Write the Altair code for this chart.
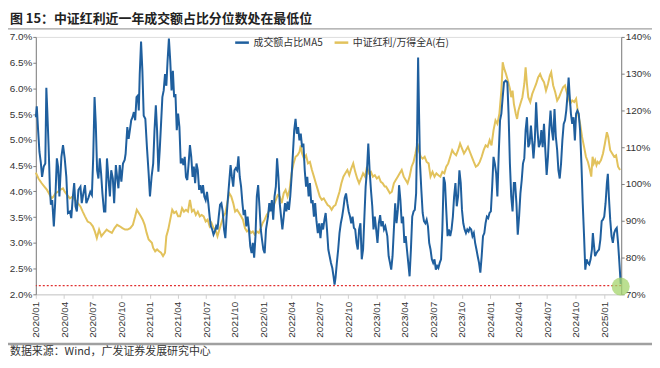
import altair as alt
import pandas as pd
import numpy as np

# ---------------- data ----------------
# x positions are expressed as months elapsed since 2020-01-01
blue_months = [0.0, 0.1, 0.24, 0.38, 0.52, 0.66, 0.83, 1.0, 1.11, 1.21, 1.35, 1.49, 1.59, 1.73, 1.9, 2.04, 2.22, 2.35, 2.49, 2.7, 2.87, 3.05, 3.22, 3.39, 3.6, 3.74, 3.91, 4.05, 4.19, 4.33, 4.5, 4.71, 4.85, 5.02, 5.19, 5.33, 5.54, 5.75, 5.92, 6.06, 6.2, 6.33, 6.47, 6.61, 6.75, 6.89, 7.03, 7.2, 7.34, 7.51, 7.68, 7.82, 7.96, 8.13, 8.27, 8.45, 8.58, 8.72, 8.86, 9.03, 9.2, 9.38, 9.48, 9.66, 9.8, 9.93, 10.07, 10.21, 10.35, 10.49, 10.63, 10.77, 10.87, 10.97, 11.11, 11.25, 11.39, 11.56, 11.73, 11.91,
               12.05, 12.22, 12.39, 12.53, 12.67, 12.8, 12.94, 13.08, 13.22, 13.36, 13.5, 13.64, 13.78, 13.91, 14.05, 14.19, 14.33, 14.47, 14.6, 14.74, 14.88, 15.02, 15.16, 15.3, 15.44, 15.58, 15.72, 15.85, 15.99, 16.13, 16.27, 16.41, 16.55, 16.68, 16.82, 16.96, 17.1, 17.24, 17.38, 17.51, 17.65, 17.79, 17.93, 18.07, 18.21, 18.35, 18.48, 18.62, 18.76, 18.9, 19.04, 19.18, 19.31, 19.45, 19.59, 19.73, 19.87, 20.01, 20.14, 20.28, 20.42, 20.56, 20.7, 20.84, 20.97, 21.11, 21.25, 21.39, 21.53, 21.67, 21.81, 21.94, 22.08, 22.22, 22.36, 22.5, 22.64, 22.78, 22.91, 23.05, 23.19, 23.33, 23.47, 23.61, 23.75, 23.88, 24.02, 24.16, 24.3,
               24.51, 24.65, 24.78, 24.92, 25.06, 25.2, 25.34, 25.47, 25.61, 25.75, 25.89, 26.03, 26.17, 26.31, 26.45, 26.58, 26.72, 26.86, 27.0, 27.14, 27.28, 27.42, 27.55, 27.69, 27.83, 27.97, 28.11, 28.25, 28.39, 28.53, 28.66, 28.8, 28.94, 29.08, 29.22, 29.36, 29.49, 29.63, 29.77, 29.91, 30.05, 30.19, 30.33, 30.47, 30.6, 30.74, 30.88, 31.02, 31.16, 31.3, 31.43, 31.54, 31.64, 31.78, 31.92, 32.06, 32.2, 32.34, 32.47, 32.61, 32.75, 32.89, 33.03, 33.17, 33.3, 33.44, 33.58, 33.72, 33.86, 33.99, 34.13, 34.27, 34.41, 34.55, 34.69, 34.82, 34.96, 35.1, 35.24, 35.38, 35.52, 35.65, 35.79, 35.93, 36.07, 36.21, 36.35, 36.48, 36.62, 36.76, 36.9,
               37.11, 37.25, 37.39, 37.52, 37.66, 37.8, 37.94, 38.08, 38.22, 38.35, 38.49, 38.63, 38.77, 38.91, 39.05, 39.18, 39.32, 39.46, 39.6, 39.74, 39.88, 40.01, 40.15, 40.26, 40.36, 40.46, 40.56, 40.7, 40.84, 40.98, 41.12, 41.26, 41.4, 41.53, 41.67, 41.81, 41.95, 42.09, 42.23, 42.37, 42.5, 42.64, 42.78, 42.92, 43.06, 43.2, 43.33, 43.47, 43.61, 43.75, 43.89, 44.03, 44.16, 44.3, 44.44, 44.58, 44.72, 44.86, 44.99, 45.13, 45.27, 45.41, 45.55, 45.69, 45.82, 45.96, 46.1, 46.24, 46.38, 46.52, 46.65, 46.79, 46.93, 47.07, 47.21, 47.35, 47.48, 47.62, 47.76, 47.9, 48.04, 48.18, 48.32, 48.46, 48.6, 48.73, 48.87, 49.01, 49.15, 49.29,
               49.43, 49.6, 49.78, 49.91, 50.05, 50.19, 50.33, 50.47, 50.6, 50.74, 50.88, 51.02, 51.16, 51.3, 51.43, 51.57, 51.71, 51.85, 51.99, 52.13, 52.27, 52.4, 52.54, 52.68, 52.82, 52.96, 53.1, 53.24, 53.37, 53.51, 53.65, 53.79, 53.93, 54.07, 54.2, 54.34, 54.48, 54.62, 54.76, 54.9, 55.04, 55.17, 55.31, 55.45, 55.59, 55.73, 55.87, 56.0, 56.14, 56.25, 56.35, 56.49, 56.63, 56.77, 56.91, 57.04, 57.18, 57.32, 57.46, 57.6, 57.74, 57.88, 58.01, 58.15, 58.29, 58.43, 58.57, 58.71, 58.81, 58.9, 59.04, 59.18, 59.32, 59.46, 59.6, 59.74, 59.87, 60.01, 60.15, 60.29, 60.39, 60.5, 60.64, 60.78, 60.92, 61.06, 61.2, 61.33, 61.47, 61.61, 61.75]
blue_values = [5.44, 5.65, 5.19, 4.77, 4.57, 4.28, 4.48, 4.54, 6.01, 5.57, 4.86, 4.03, 3.74, 3.83, 3.32, 3.77, 4.64, 4.48, 3.90, 4.67, 4.90, 4.64, 4.28, 3.58, 3.61, 3.48, 3.90, 4.16, 3.71, 3.61, 4.03, 4.09, 3.77, 3.96, 4.12, 3.77, 3.87, 3.99, 3.93, 4.67, 5.83, 5.31, 4.41, 4.25, 4.64, 4.35, 3.96, 3.61, 3.61, 4.64, 4.22, 3.90, 4.41, 4.25, 3.77, 4.51, 4.28, 4.06, 4.51, 4.19, 4.54, 4.61, 4.73, 5.25, 5.02, 5.19, 5.38, 5.44, 5.54, 5.38, 5.83, 5.86, 5.57, 6.28, 6.91, 6.34, 5.47, 5.41, 4.86, 4.35,
               3.90, 4.28, 4.54, 5.19, 5.67, 5.19, 4.38, 4.80, 5.31, 5.83, 5.96, 6.28, 6.05, 6.54, 6.97, 6.54, 5.96, 6.34, 5.83, 5.89, 5.19, 5.51, 5.25, 4.54, 4.64, 4.51, 4.67, 4.28, 4.22, 4.54, 4.90, 4.67, 4.28, 4.48, 4.16, 4.54, 4.41, 4.03, 4.12, 3.96, 4.12, 3.90, 3.83, 3.99, 3.77, 3.51, 3.32, 3.26, 3.16, 3.22, 3.32, 3.26, 3.51, 3.74, 3.77, 3.61, 3.26, 3.09, 3.51, 3.87, 4.19, 4.51, 4.28, 4.09, 4.41, 4.45, 4.41, 4.68, 4.28, 4.09, 3.77, 3.54, 3.64, 3.32, 3.51, 3.26, 2.93, 2.80, 3.00, 2.71, 3.13, 3.90, 4.12, 3.71, 3.26, 3.06, 2.87, 2.80, 3.26,
               3.51, 3.77, 3.61, 3.83, 3.45, 3.90, 4.09, 4.64, 4.28, 3.77, 3.51, 3.26, 3.51, 3.77, 3.61, 3.80, 3.64, 3.90, 4.28, 4.73, 5.19, 5.41, 5.12, 5.25, 4.99, 5.12, 4.86, 4.93, 4.41, 4.09, 4.28, 3.90, 4.16, 3.77, 3.83, 3.51, 3.77, 3.42, 3.19, 3.38, 3.09, 3.38, 3.26, 3.45, 3.58, 3.26, 2.87, 2.74, 2.61, 2.51, 2.35, 2.19, 2.32, 2.61, 2.87, 3.19, 3.38, 3.51, 3.67, 3.87, 3.96, 3.77, 3.61, 3.51, 3.38, 3.51, 3.29, 3.26, 3.00, 2.87, 3.26, 3.38, 2.68, 2.87, 3.51, 4.09, 4.41, 4.93, 4.41, 4.03, 3.71, 3.26, 3.51, 3.26, 3.00, 3.38, 3.54, 3.32, 3.42, 3.26, 3.32,
               3.13, 2.74, 2.61, 2.48, 2.74, 3.26, 3.77, 3.38, 3.64, 4.12, 3.83, 3.38, 3.51, 3.00, 3.13, 2.87, 2.61, 2.35, 2.87, 3.51, 3.61, 3.64, 3.96, 5.19, 6.60, 5.51, 4.54, 4.03, 3.58, 3.42, 3.38, 3.45, 3.32, 3.00, 2.87, 2.68, 2.61, 2.68, 2.48, 2.55, 2.51, 2.61, 2.68, 3.26, 4.28, 4.16, 3.64, 3.13, 3.26, 3.13, 3.26, 3.51, 3.90, 4.16, 3.71, 3.90, 4.41, 4.16, 3.64, 3.38, 3.26, 3.19, 3.26, 3.22, 3.29, 3.26, 3.13, 3.19, 3.00, 2.87, 2.74, 2.61, 2.42, 2.74, 3.13, 3.19, 3.38, 3.51, 3.48, 3.58, 3.61, 4.09, 4.67, 4.54, 4.35, 3.90, 4.73, 5.38, 5.51, 5.83,
               6.12, 6.15, 6.12, 5.51, 4.54, 3.90, 3.61, 4.16, 4.16, 3.77, 3.16, 3.51, 3.96, 4.22, 4.54, 4.64, 5.19, 5.44, 4.86, 4.93, 5.28, 4.99, 4.64, 4.99, 5.73, 5.19, 4.86, 4.93, 5.19, 4.86, 5.31, 4.80, 4.32, 4.67, 5.19, 5.57, 5.19, 4.99, 5.60, 5.06, 4.80, 4.41, 4.25, 4.54, 4.99, 5.31, 5.38, 5.57, 5.89, 6.21, 5.89, 5.51, 5.31, 5.44, 4.99, 5.51, 5.57, 5.51, 5.19, 4.54, 3.77, 3.13, 2.48, 2.68, 2.61, 2.58, 2.68, 2.87, 3.19, 3.00, 2.74, 2.80, 2.84, 2.87, 3.06, 3.42, 3.45, 3.51, 3.77, 4.16, 4.34, 3.90, 3.45, 3.13, 3.00, 3.19, 3.26, 3.29, 3.00, 2.61, 2.20]

yellow_months = [0.0, 0.28, 0.62, 0.9, 1.18, 1.38, 1.66, 1.87, 2.08, 2.35, 2.56, 2.87, 3.05, 3.32, 3.6, 3.88, 4.15, 4.43, 4.71, 4.95, 5.19, 5.47, 5.75, 6.02, 6.23, 6.44, 6.68, 6.92, 7.2, 7.48, 7.75, 8.03, 8.31, 8.58, 8.86, 9.14, 9.42, 9.69, 9.97, 10.25, 10.49, 10.66, 10.87, 11.08, 11.28, 11.49, 11.7, 11.91,
                 12.25, 12.39, 12.6, 12.8, 13.01, 13.22, 13.43, 13.64, 13.78, 13.98, 14.19, 14.4, 14.6, 14.81, 15.02, 15.23, 15.44, 15.64, 15.85, 16.06, 16.27, 16.48, 16.68, 16.89, 17.1, 17.31, 17.51, 17.72, 17.93, 18.14, 18.35, 18.55, 18.76, 18.97, 19.18, 19.38, 19.59, 19.8, 20.01, 20.21, 20.42, 20.63, 20.84, 21.04, 21.25, 21.46, 21.67, 21.87, 22.08, 22.29, 22.5, 22.71, 22.91, 23.12, 23.33, 23.54, 23.75, 23.95, 24.16, 24.37,
                 24.51, 24.71, 24.92, 25.13, 25.34, 25.54, 25.75, 25.96, 26.17, 26.37, 26.58, 26.79, 27.0, 27.21, 27.42, 27.62, 27.83, 27.97, 28.11, 28.32, 28.53, 28.73, 28.94, 29.15, 29.36, 29.56, 29.77, 29.98, 30.19, 30.4, 30.6, 30.81, 31.02, 31.23, 31.43, 31.64, 31.85, 32.06, 32.26, 32.47, 32.68, 32.89, 33.09, 33.3, 33.51, 33.72, 33.93, 34.13, 34.34, 34.55, 34.76, 34.96, 35.17, 35.38, 35.58, 35.79, 36.0, 36.21, 36.42, 36.62, 36.83,
                 36.97, 37.18, 37.38, 37.59, 37.8, 38.0, 38.21, 38.42, 38.63, 38.84, 39.05, 39.25, 39.46, 39.67, 39.88, 40.08, 40.29, 40.43, 40.64, 40.84, 41.05, 41.26, 41.47, 41.67, 41.88, 42.09, 42.29, 42.5, 42.71, 42.92, 43.13, 43.33, 43.54, 43.75, 43.96, 44.17, 44.37, 44.58, 44.79, 45.0, 45.2, 45.41, 45.62, 45.83, 46.03, 46.24, 46.45, 46.66, 46.87, 47.07, 47.28, 47.49, 47.7, 47.91, 48.11, 48.32, 48.53, 48.73, 48.94, 49.15, 49.29,
                 49.43, 49.64, 49.84, 50.05, 50.19, 50.33, 50.47, 50.67, 50.81, 50.95, 51.16, 51.37, 51.57, 51.71, 51.85, 51.99, 52.2, 52.41, 52.62, 52.82, 53.03, 53.24, 53.44, 53.65, 53.86, 54.07, 54.27, 54.41, 54.62, 54.83, 55.04, 55.24, 55.45, 55.66, 55.87, 56.0, 56.21, 56.42, 56.63, 56.84, 57.04, 57.25, 57.46, 57.67, 57.88, 58.08, 58.29, 58.5, 58.64, 58.78, 58.91, 59.05, 59.19, 59.32, 59.46, 59.67, 59.88, 60.08, 60.29, 60.43, 60.64, 60.85, 61.06, 61.26, 61.47, 61.68]
yellow_values = [103.1, 101.5, 100.2, 99.3, 98.4, 97.5, 96.1, 96.6, 97.5, 97.9, 98.4, 98.8, 97.9, 97.0, 96.1, 96.6, 95.7, 94.8, 93.9, 92.5, 91.2, 89.8, 89.4, 88.5, 87.1, 85.3, 87.6, 85.8, 86.7, 87.6, 87.1, 86.7, 88.0, 88.9, 88.5, 88.0, 87.6, 87.6, 88.0, 88.9, 91.2, 93.0, 92.1, 91.2, 90.3, 88.9, 86.7, 84.9,
                 84.0, 82.6, 81.7, 82.2, 81.7, 81.3, 80.4, 81.3, 85.8, 87.6, 90.3, 93.0, 92.1, 92.5, 91.2, 91.2, 93.4, 92.5, 93.0, 92.5, 95.7, 92.5, 93.0, 91.6, 92.5, 91.2, 91.6, 91.2, 89.8, 90.3, 88.5, 89.4, 88.0, 87.6, 85.8, 87.6, 89.4, 91.2, 92.1, 94.8, 97.5, 96.6, 94.8, 92.5, 93.0, 92.1, 91.2, 90.3, 88.0, 87.1, 87.6, 86.7, 87.1, 86.2, 87.1, 86.7, 88.0, 89.4, 90.3, 91.6,
                 92.1, 93.0, 93.9, 94.3, 95.7, 97.0, 96.6, 94.8, 97.5, 98.4, 96.6, 98.4, 102.9, 105.6, 107.4, 107.8, 108.7, 110.5, 108.3, 106.9, 107.8, 105.6, 106.0, 103.8, 102.0, 100.2, 98.4, 96.6, 95.7, 96.1, 95.2, 94.3, 93.9, 93.0, 93.9, 94.3, 96.1, 97.9, 100.2, 102.0, 102.9, 103.8, 102.4, 104.2, 105.6, 103.3, 101.5, 100.2, 101.5, 102.9, 102.0, 104.7, 102.9, 103.3, 102.0, 102.4, 101.5, 102.0, 100.6, 100.2, 99.3,
                 99.3, 98.4, 97.5, 97.9, 100.2, 101.1, 102.0, 102.9, 103.8, 102.0, 101.1, 100.2, 102.0, 104.7, 106.0, 108.3, 111.0, 109.2, 107.4, 106.9, 107.4, 106.0, 105.6, 102.0, 103.3, 102.0, 102.9, 102.4, 102.0, 103.3, 102.9, 104.7, 105.6, 107.4, 109.2, 108.3, 107.8, 109.2, 111.0, 109.6, 108.3, 109.2, 110.1, 108.7, 107.4, 106.0, 104.7, 105.1, 106.0, 107.4, 109.2, 110.5, 110.1, 111.9, 110.5, 114.6, 117.3, 116.4, 119.1, 125.4, 133.1,
                 131.5, 129.9, 128.1, 125.9, 123.6, 125.4, 121.8, 119.1, 117.7, 120.0, 121.8, 123.6, 127.2, 131.7, 127.2, 123.6, 122.3, 124.5, 125.9, 127.2, 129.0, 129.9, 128.6, 127.7, 125.4, 127.2, 129.5, 130.4, 126.8, 125.0, 122.7, 123.6, 125.0, 126.3, 126.8, 125.4, 123.6, 121.8, 122.7, 122.3, 123.2, 119.1, 116.4, 112.8, 110.1, 107.4, 106.0, 103.8, 102.0, 107.4, 105.6, 106.5, 105.1, 106.0, 105.6, 106.5, 108.3, 111.0, 114.1, 112.8, 109.2, 108.3, 107.4, 107.8, 104.7, 103.8]

low_line_value = [2.17]
marker_months = [61.75]
marker_values = [2.15]

series_names = ["成交额占比MA5", "中证红利/万得全A(右)"]
series_colors = ["#1f5f9e", "#e2c25c"]
left_ticks = [2.0, 2.5, 3.0, 3.5, 4.0, 4.5, 5.0, 5.5, 6.0, 6.5, 7.0]
right_ticks = [70, 80, 90, 100, 110, 120, 130, 140]
quarter_ticks = [(y, m) for y in range(2020, 2026) for m in (1, 4, 7, 10) if (y, m) <= (2025, 1)]

title_text = "图 15：中证红利近一年成交额占比分位数处在最低位"
source_text = "数据来源：Wind，广发证券发展研究中心"

# ---------------- helpers ----------------
START = pd.Timestamp("2020-01-01")
def to_dates(months):
    d = START + pd.to_timedelta(np.array(months) * 30.4375, unit="D")
    return d.strftime("%Y-%m-%dT%H:%M:%S")

blue_df = pd.DataFrame({"t": to_dates(blue_months), "v": blue_values, "series": series_names[0]})
yellow_df = pd.DataFrame({"t": to_dates(yellow_months), "v": yellow_values, "series": series_names[1]})
low_df = pd.DataFrame({"v": low_line_value})
marker_df = pd.DataFrame({"t": to_dates(marker_months), "v": marker_values})

x_domain = [START.strftime("%Y-%m-%dT%H:%M:%S"), to_dates([61.8])[0]]

FONT = "Liberation Sans, Noto Sans CJK SC"
CJK = "Noto Sans CJK SC"

x_enc = alt.X(
    "t:T",
    scale=alt.Scale(domain=x_domain),
    axis=alt.Axis(
        values=[alt.DateTime(year=y, month=m, date=1) for y, m in quarter_ticks],
        format="%Y/%m", labelAngle=270, labelFontSize=10, labelColor="#333333",
        labelFont=FONT, tickSize=4, tickColor="#d0d0d0", domainColor="#d0d0d0",
        labelPadding=3, grid=False, title=None, labelOverlap=False,
    ),
)

color_enc = alt.Color(
    "series:N",
    scale=alt.Scale(domain=series_names, range=series_colors),
    legend=alt.Legend(
        orient="none", legendX=199, legendY=-3, direction="horizontal", title=None,
        symbolType="stroke", symbolStrokeWidth=2.5, symbolSize=190,
        labelFontSize=10, labelFont=CJK, labelColor="#333333", columnPadding=6, labelOffset=3,
    ),
)

left_axis = alt.Axis(
    orient="left", values=left_ticks, labelExpr="format(datum.value, '.1f') + '%'",
    labelFontSize=10, labelFont=FONT, labelColor="#333333", tickSize=3,
    tickColor="#808080", domainColor="#808080", grid=False, title=None, labelPadding=1,
)
right_axis = alt.Axis(
    orient="right", values=right_ticks, labelExpr="format(datum.value, 'd') + '%'",
    labelFontSize=10, labelFont=FONT, labelColor="#333333", tickSize=3,
    tickColor="#808080", domainColor="#808080", grid=False, title=None, labelPadding=1,
)
left_scale = alt.Scale(domain=[2.0, 7.0], nice=False, zero=False)
right_scale = alt.Scale(domain=[70, 140], nice=False, zero=False)

yellow = alt.Chart(yellow_df).mark_line(strokeWidth=2).encode(
    x=x_enc, y=alt.Y("v:Q", scale=right_scale, axis=right_axis), color=color_enc
)

blue = alt.Chart(blue_df).mark_line(strokeWidth=2).encode(
    x=x_enc, y=alt.Y("v:Q", scale=left_scale, axis=left_axis), color=color_enc
)
low = alt.Chart(low_df).mark_rule(color="#e03030", strokeWidth=1.3, strokeDash=[2, 2]).encode(
    y=alt.Y("v:Q", scale=left_scale, axis=left_axis)
)
marker = alt.Chart(marker_df).mark_point(filled=True, size=330, color="#a4d46c", opacity=0.75).encode(
    x=x_enc, y=alt.Y("v:Q", scale=left_scale, axis=left_axis)
)

title_mark = alt.Chart(pd.DataFrame({"s": [title_text]})).mark_text(
    align="left", baseline="middle", fontSize=13, fontWeight="bold", font=CJK, color="#222222"
).encode(x=alt.value(-26), y=alt.value(-18), text="s:N")
title_rule = alt.Chart(pd.DataFrame({"s": [title_text]})).mark_rule(color="#a0a0a0", strokeWidth=1.2).encode(
    x=alt.value(-28), x2=alt.value(620), y=alt.value(-8)
)
foot_rule = alt.Chart(pd.DataFrame({"s": [source_text]})).mark_rule(color="#a0a0a0", strokeWidth=2.5).encode(
    x=alt.value(-28), x2=alt.value(620), y=alt.value(309)
)
foot_text = alt.Chart(pd.DataFrame({"s": [source_text]})).mark_text(
    align="left", baseline="middle", fontSize=11, font=CJK, color="#333333"
).encode(x=alt.value(-26), y=alt.value(317), text="s:N")

left_layer = alt.layer(low, blue, marker, title_mark, title_rule, foot_rule, foot_text)

chart = alt.layer(yellow, left_layer).resolve_scale(y="independent").properties(
    width=589, height=259,
    autosize=alt.AutoSizeParams(type="none"),
    padding={"left": 28, "top": 28, "right": 31, "bottom": 65},
).configure_view(strokeWidth=0).configure(background="white")

chart.save("out.html", embed_options={"renderer": "svg", "actions": False})
